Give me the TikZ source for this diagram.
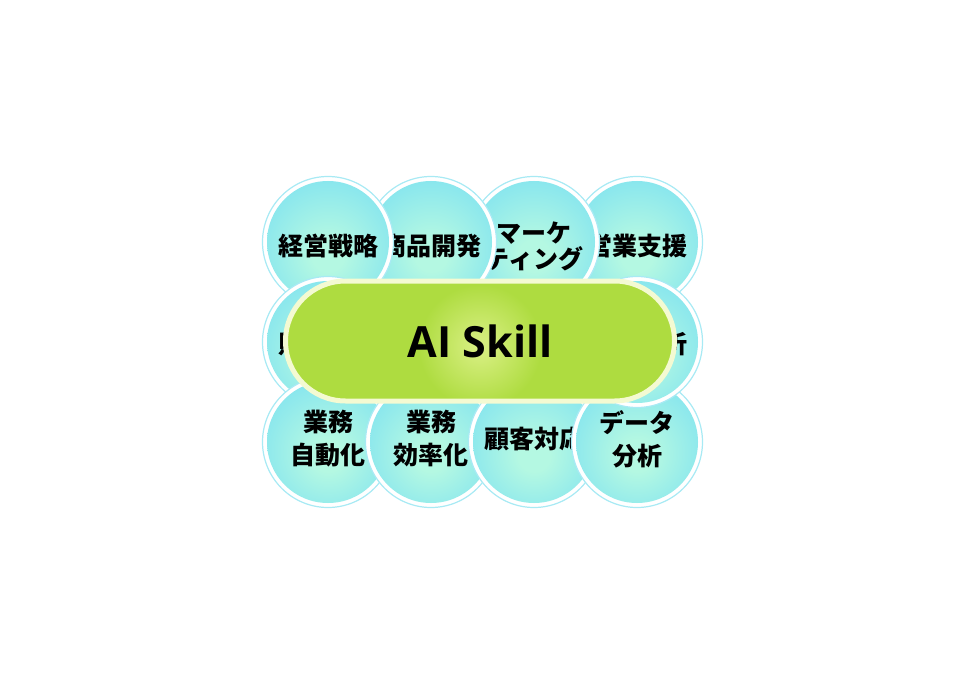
\documentclass[tikz,border=0pt]{standalone}
\usepackage{fontspec}
\newfontfamily\jpfont{Noto Sans CJK JP}
\newfontfamily\aifont{Open Sans}
\definecolor{mintc}{HTML}{B4F8E2}
\definecolor{cyanc}{HTML}{88E6EE}
\definecolor{ringc}{HTML}{A8EAF4}
\definecolor{pillc}{HTML}{AEDC40}
\definecolor{glowc}{HTML}{D8EF82}
\definecolor{creamc}{HTML}{F4FAD2}
\pgfdeclareradialshading{bubbleshade}{\pgfpoint{0bp}{-6bp}}{color(0bp)=(mintc); color(6bp)=(mintc); color(27bp)=(cyanc); color(50bp)=(cyanc)}
\pgfdeclareradialshading{glowshade}{\pgfpoint{0bp}{0bp}}{color(0bp)=(glowc); color(1.5bp)=(glowc!85!pillc); color(7.5bp)=(pillc); color(50bp)=(pillc)}
\tikzset{
  bubble/.style={circle, minimum size=131bp, inner sep=0pt, fill=white, draw=ringc, line width=1.2bp,
    path picture={\shade[shading=glowshade, shading=bubbleshade] (path picture bounding box.center) circle (61bp);}},
  lbl/.style={font=\jpfont\bfseries\fontsize{25bp}{33bp}\selectfont, align=center, inner sep=0pt, text=black},
  pill/.style={rectangle, rounded corners=60bp, minimum width=389bp, minimum height=120bp, inner sep=0pt,
    fill=pillc, draw=creamc, line width=5bp,
    path picture={\shade[shading=glowshade] ([yshift=-5bp]path picture bounding box.center) circle (205bp);},
    font=\aifont\bfseries\fontsize{43bp}{48bp}\selectfont, text=black}
}
\begin{document}
\begin{tikzpicture}[x=1bp,y=-1bp]
\useasboundingbox (0,0) rectangle (960,683);
% top row, right to left
\node[bubble] (c4) at (637,242) {};
\node[lbl, yshift=-4bp] (t4) at (c4) {営業支援};
\node[bubble] (c3) at (534,242) {};
\node[lbl, yshift=-4bp, font=\jpfont\bfseries\fontsize{25bp}{26bp}\selectfont] (t3) at (c3) {マーケ\\ティング};
\node[bubble] (c2) at (431,242) {};
\node[lbl, yshift=-4bp] (t2) at (c2) {商品開発};
\node[bubble] (c1) at (328,242) {};
\node[lbl, yshift=-4bp] (t1) at (c1) {経営戦略};
% middle left
\node[bubble] (m1) at (328,342) {};
\node[lbl, yshift=-2bp] (tm1) at (m1) {財務管理};
% bottom row, left to right
\node[bubble] (b1) at (328,442) {};
\node[lbl, yshift=3bp] (tb1) at (b1) {業務\\自動化};
\node[bubble] (b2) at (431,442) {};
\node[lbl, yshift=3bp] (tb2) at (b2) {業務\\効率化};
\node[bubble] (b3) at (534,442) {};
\node[lbl, yshift=3bp] (tb3) at (b3) {顧客対応};
\node[bubble] (b4) at (637,442) {};
\node[lbl, yshift=3bp] (tb4) at (b4) {データ\\分析};
% middle right
\node[bubble] (m2) at (637,342) {};
\node[lbl, yshift=-2bp] (tm2) at (m2) {市場分析};
% centre pill
\node[pill] (ai) at (480,341) {AI Skill};
\end{tikzpicture}
\end{document}
